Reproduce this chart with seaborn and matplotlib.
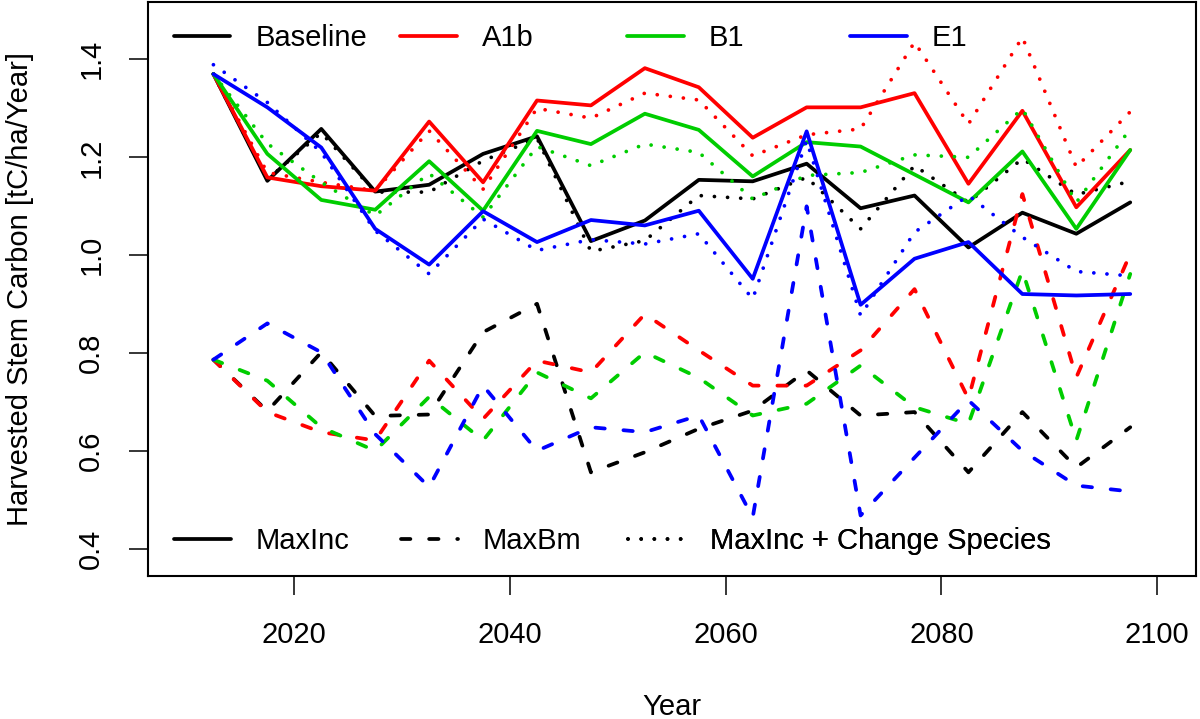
import pandas as pd
import matplotlib
matplotlib.use("Agg")
import matplotlib.pyplot as plt
from matplotlib.lines import Line2D
import seaborn as sns

# five-year period midpoints
years = [2012.5, 2017.5, 2022.5, 2027.5, 2032.5, 2037.5, 2042.5, 2047.5, 2052.5,
         2057.5, 2062.5, 2067.5, 2072.5, 2077.5, 2082.5, 2087.5, 2092.5, 2097.5]

# MaxInc (solid)
baseline_maxinc = [1.370, 1.152, 1.258, 1.130, 1.144, 1.207, 1.243, 1.029, 1.071,
                   1.154, 1.151, 1.187, 1.096, 1.122, 1.016, 1.087, 1.044, 1.108]
a1b_maxinc = [1.370, 1.159, 1.141, 1.132, 1.273, 1.149, 1.316, 1.306, 1.382,
              1.343, 1.240, 1.302, 1.302, 1.331, 1.146, 1.295, 1.098, 1.215]
b1_maxinc = [1.370, 1.207, 1.113, 1.093, 1.192, 1.091, 1.254, 1.227, 1.289,
             1.256, 1.161, 1.231, 1.222, 1.165, 1.108, 1.212, 1.054, 1.215]
e1_maxinc = [1.370, 1.302, 1.220, 1.054, 0.981, 1.090, 1.027, 1.072, 1.061,
             1.091, 0.952, 1.253, 0.899, 0.993, 1.027, 0.921, 0.918, 0.921]

# MaxBm (dashed)
baseline_maxbm = [0.787, 0.682, 0.802, 0.672, 0.675, 0.843, 0.901, 0.557, 0.598,
                  0.646, 0.683, 0.765, 0.673, 0.680, 0.557, 0.680, 0.567, 0.649]
a1b_maxbm = [0.787, 0.680, 0.639, 0.622, 0.785, 0.666, 0.785, 0.761, 0.880,
             0.806, 0.734, 0.734, 0.806, 0.931, 0.707, 1.125, 0.751, 1.003]
b1_maxbm = [0.787, 0.744, 0.649, 0.601, 0.711, 0.622, 0.761, 0.708, 0.802,
            0.750, 0.673, 0.697, 0.775, 0.690, 0.656, 0.969, 0.622, 0.962]
e1_maxbm = [0.787, 0.861, 0.802, 0.635, 0.527, 0.734, 0.601, 0.649, 0.639,
            0.673, 0.465, 1.100, 0.469, 0.587, 0.704, 0.601, 0.530, 0.518]

# MaxInc + Change Species (dotted)
baseline_cs = [1.370, 1.155, 1.250, 1.129, 1.129, 1.193, 1.239, 1.008, 1.030,
               1.122, 1.115, 1.159, 1.054, 1.183, 1.108, 1.197, 1.124, 1.151]
a1b_cs = [1.370, 1.169, 1.149, 1.132, 1.254, 1.135, 1.300, 1.280, 1.331,
          1.317, 1.203, 1.246, 1.258, 1.435, 1.268, 1.445, 1.180, 1.293]
b1_cs = [1.370, 1.228, 1.149, 1.081, 1.167, 1.078, 1.222, 1.183, 1.227,
         1.210, 1.115, 1.163, 1.169, 1.205, 1.200, 1.299, 1.108, 1.258]
e1_cs = [1.389, 1.312, 1.210, 1.050, 0.962, 1.074, 1.010, 1.032, 1.023,
         1.044, 0.911, 1.234, 0.877, 1.047, 1.122, 1.037, 0.967, 0.958]

scenarios = ["Baseline", "A1b", "B1", "E1"]
scenario_colors = ["#000000", "#FF0000", "#00CD00", "#0000FF"]
strategies = ["MaxInc", "MaxBm", "MaxInc + Change Species"]

series = {
    ("Baseline", "MaxInc"): baseline_maxinc,
    ("A1b", "MaxInc"): a1b_maxinc,
    ("B1", "MaxInc"): b1_maxinc,
    ("E1", "MaxInc"): e1_maxinc,
    ("Baseline", "MaxBm"): baseline_maxbm,
    ("A1b", "MaxBm"): a1b_maxbm,
    ("B1", "MaxBm"): b1_maxbm,
    ("E1", "MaxBm"): e1_maxbm,
    ("Baseline", "MaxInc + Change Species"): baseline_cs,
    ("A1b", "MaxInc + Change Species"): a1b_cs,
    ("B1", "MaxInc + Change Species"): b1_cs,
    ("E1", "MaxInc + Change Species"): e1_cs,
}

rows = []
for (scen, strat), vals in series.items():
    for yr, v in zip(years, vals):
        rows.append({"Year": yr, "carbon": v, "scenario": scen, "strategy": strat})
df = pd.DataFrame(rows)

sns.set_theme(style="ticks")
plt.rcParams["font.family"] = ["Liberation Sans", "DejaVu Sans"]
plt.rcParams.update({
    "lines.solid_capstyle": "round",
    "lines.dash_capstyle": "round",
    "lines.solid_joinstyle": "round",
    "lines.dash_joinstyle": "round",
    "text.color": "black",
    "axes.labelcolor": "black",
    "xtick.color": "black",
    "ytick.color": "black",
    "legend.labelcolor": "black",
})

FS = 21
LW = 2.7
dash_styles = {"MaxInc": "", "MaxBm": (2.5, 5.0), "MaxInc + Change Species": (0.01, 3.5)}
palette = dict(zip(scenarios, scenario_colors))

fig = plt.figure(figsize=(12, 7.19), dpi=100)
ax = fig.add_axes([0.1231, 0.1993, 0.8736, 0.7983])

sns.lineplot(data=df, x="Year", y="carbon", hue="scenario", style="strategy",
             hue_order=scenarios, style_order=strategies, palette=palette,
             dashes=dash_styles, linewidth=LW, estimator=None, sort=False,
             legend=False, ax=ax)

ax.set_xlim(2006.41, 2103.6)
ax.set_ylim(0.346, 1.5176)
ax.set_xticks([2020, 2040, 2060, 2080, 2100])
ax.set_yticks([0.4, 0.6, 0.8, 1.0, 1.2, 1.4])
ax.set_yticklabels(["0.4", "0.6", "0.8", "1.0", "1.2", "1.4"])

for side in ["left", "right", "top", "bottom"]:
    ax.spines[side].set_visible(True)
    ax.spines[side].set_color("black")
    ax.spines[side].set_linewidth(1.5)

ax.tick_params(axis="both", direction="out", length=14, width=1.1,
               colors="black", labelsize=FS)
ax.tick_params(axis="x", pad=18.5)
ax.tick_params(axis="y", pad=16.5, labelrotation=90)
for lab in ax.get_yticklabels():
    lab.set_va("center")

ax.set_xlabel("Year", fontsize=FS, color="black")
ax.set_ylabel("Harvested Stem Carbon [tC/ha/Year]", fontsize=FS, color="black")
ax.xaxis.set_label_coords(0.5, -0.2044)
ax.yaxis.set_label_coords(-0.1085, 0.5)

# legends: one box per entry, evenly spaced like the R horizontal legend
top_x = [0.0246, 0.2407, 0.4572, 0.6699]
for name, col, x in zip(scenarios, scenario_colors, top_x):
    h = Line2D([], [], color=col, linewidth=LW)
    leg = ax.legend(handles=[h], labels=[name], loc="center left",
                    bbox_to_anchor=(x, 0.9373), frameon=False, fontsize=FS,
                    borderpad=0, borderaxespad=0, handlelength=1.94,
                    handletextpad=0.87, labelcolor="black")
    ax.add_artist(leg)

bottom_x = [0.0251, 0.2416, 0.4582]
for name, x in zip(strategies, bottom_x):
    h = Line2D([], [], color="black", linewidth=LW)
    if dash_styles[name] != "":
        h.set_dashes(dash_styles[name])
    leg = ax.legend(handles=[h], labels=[name], loc="center left",
                    bbox_to_anchor=(x, 0.0596), frameon=False, fontsize=FS,
                    borderpad=0, borderaxespad=0, handlelength=1.94,
                    handletextpad=0.87, labelcolor="black")
    ax.add_artist(leg)

fig.savefig("out.png", dpi=100)
